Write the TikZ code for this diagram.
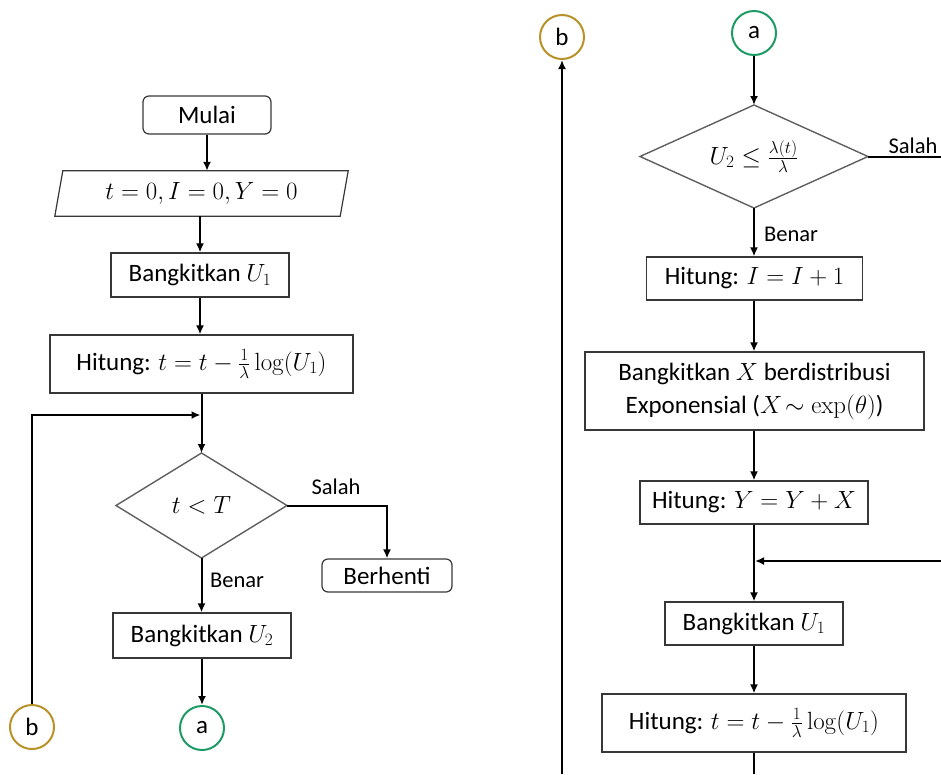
\documentclass[tikz,border=0pt]{standalone}
\usepackage[no-math]{fontspec}
\setmainfont{Carlito}
\usetikzlibrary{arrows.meta}
\definecolor{cgreen}{RGB}{30,155,100}
\definecolor{cgold}{RGB}{184,146,40}
\definecolor{edgec}{RGB}{55,55,55}
\begin{document}
\begin{tikzpicture}[x=1pt,y=-1pt,
  boxtxt/.style={font=\fontsize{25}{33}\selectfont},
  mtxt/.style={font=\fontsize{27}{33}\selectfont},
  pbox/.style={boxtxt, draw=edgec, line width=1.2pt, inner sep=0pt, align=center},
  rbox/.style={pbox, rounded corners=6pt},
  conn/.style={circle, line width=2pt, inner sep=0pt, minimum size=44pt, boxtxt},
  lbl/.style={font=\fontsize{22.5}{26}\selectfont, inner sep=0pt},
  arr/.style={line width=2pt, -{Latex[length=9pt,width=8pt]}},
  ln/.style={line width=2pt},
  dia/.style={draw=edgec!80, line width=1.4pt}
]
\useasboundingbox (0,0) rectangle (941,774);

% ---------- left column ----------
\node[rbox, minimum width=128pt, minimum height=38pt] (mulai) at (207,115) {Mulai};
\node[mtxt, inner sep=0pt, minimum width=285pt, minimum height=45pt] (init) at (201.5,193.5) {$t=0, I=0, Y=0$};
\draw[edgec, line width=1.2pt] ([xshift=4pt]init.north west) -- ([xshift=4pt]init.north east)
  -- ([xshift=-4pt]init.south east) -- ([xshift=-4pt]init.south west) -- cycle;
\node[pbox, minimum width=178pt, minimum height=44pt] (bu1) at (200,275) {Bangkitkan $U_1$};
\node[pbox, minimum width=303pt, minimum height=58pt] (ht1) at (201.5,364) {Hitung: $t=t-\frac{1}{\lambda}\log(U_1)$};

\coordinate (d1t) at (201.5,453);
\coordinate (d1b) at (201.5,558);
\coordinate (d1l) at (116,505.5);
\coordinate (d1r) at (287,505.5);
\draw[dia] (d1t) -- (d1r) -- (d1b) -- (d1l) -- cycle;
\node[mtxt, inner sep=0pt] (d1) at (201.5,505.5) {$t<T$};

\node[rbox, minimum width=130pt, minimum height=33pt] (stop) at (387,575.5) {Berhenti};
\node[pbox, minimum width=178pt, minimum height=45pt] (bu2) at (202,635.5) {Bangkitkan $U_2$};
\node[conn, draw=cgreen] (aL) at (202,728) {a};
\node[conn, draw=cgold] (bL) at (32,727) {b};
\coordinate (j1) at (201.5,415);

\draw[arr] (mulai.south) -- (mulai.south |- init.north);
\draw[arr] (init.south -| bu1.north) -- (bu1.north);
\draw[arr] (bu1.south) -- (bu1.south |- ht1.north);
\draw[arr] (ht1.south -| d1t) -- (d1t);
\draw[arr] (bL.north) |- ([xshift=-1pt]j1);
\draw[arr] (d1r) -| (stop.north);
\draw[arr] (d1b) -- (d1b |- bu2.north);
\draw[arr] (bu2.south) -- (aL.north);
\node[lbl] (salah1) at (336,487) {Salah};
\node[lbl, anchor=west] (benar1) at (210,580) {Benar};

% ---------- right column ----------
\node[conn, draw=cgold] (bR) at (562,37) {b};
\node[conn, draw=cgreen] (aR) at (754,33) {a};
\coordinate (bstart) at (562,774);

\coordinate (d2t) at (754,105);
\coordinate (d2b) at (754,208);
\coordinate (d2l) at (640,156.5);
\coordinate (d2r) at (868,156.5);
\draw[dia] (d2t) -- (d2r) -- (d2b) -- (d2l) -- cycle;
\node[boxtxt, inner sep=0pt] (d2) at (754,156.5) {$U_2\le\frac{\lambda(t)}{\lambda}$};
\coordinate (salahend) at (941,156.5);

\node[pbox, minimum width=216pt, minimum height=43pt] (hi) at (754.5,278.5) {Hitung: $I=I+1$};
\node[pbox, minimum width=339pt, minimum height=78pt] (bx) at (754.5,391) {Bangkitkan $X$ berdistribusi\\Exponensial ($X\!\sim\exp(\theta)$)};
\node[pbox, minimum width=228pt, minimum height=43pt] (hy) at (754,502.5) {Hitung: $Y=Y+X$};
\node[pbox, minimum width=178pt, minimum height=43pt] (bu3) at (754,623.5) {Bangkitkan $U_1$};
\node[pbox, minimum width=304pt, minimum height=58pt] (ht2) at (754,723) {Hitung: $t=t-\frac{1}{\lambda}\log(U_1)$};
\coordinate (j2) at (754,561);
\coordinate (loopin) at (941,561);
\coordinate (bottomR) at (754,774);

\draw[arr] (bstart) -- (bR.south);
\draw[arr] (aR.south) -- (d2t);
\draw[ln] (d2r) -- (salahend);
\draw[arr] (d2b) -- (d2b |- hi.north);
\draw[arr] (hi.south -| d2b) -- (d2b |- bx.north);
\draw[arr] (bx.south -| d2b) -- (d2b |- hy.north);
\draw[arr] (hy.south) -- (bu3.north);
\draw[arr] (loopin) -- ([xshift=1pt]j2);
\draw[arr] (bu3.south) -- (ht2.north);
\draw[ln] (ht2.south) -- (bottomR);
\node[lbl] (salah2) at (913,146) {Salah};
\node[lbl, anchor=west] (benar2) at (764,234) {Benar};
\end{tikzpicture}
\end{document}
